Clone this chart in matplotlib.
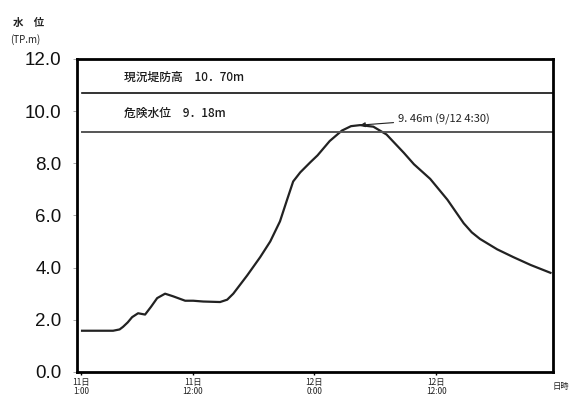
import matplotlib
matplotlib.use("Agg")
import matplotlib.pyplot as plt

plt.rcParams['font.family'] = ['Noto Sans CJK JP', 'DejaVu Sans']

# hours since 11日 0:00
hours = [1.1, 4.16, 4.8, 5.14, 5.6, 6.03, 6.62, 7.31, 7.9, 8.5, 9.28, 10.07, 11.26,
         12.05, 13.03, 14.7, 15.4, 16.0, 17.37, 18.65, 19.64, 20.6, 21.3, 21.9,
         22.6, 23.6, 24.3, 25.5, 26.7, 27.6, 28.5, 29.8, 31.1, 32.8, 33.8, 35.4,
         37.1, 38.7, 39.5, 40.3, 42.0, 43.6, 45.3, 47.25]
levels = [1.58, 1.58, 1.63, 1.73, 1.9, 2.1, 2.25, 2.2, 2.5, 2.83, 3.0, 2.9, 2.73,
          2.73, 2.7, 2.68, 2.77, 3.0, 3.7, 4.4, 5.0, 5.77, 6.6, 7.3,
          7.65, 8.04, 8.3, 8.85, 9.25, 9.42, 9.46, 9.4, 9.1, 8.4, 7.96, 7.4,
          6.6, 5.7, 5.35, 5.1, 4.7, 4.4, 4.1, 3.8]

levee_height = 10.70
danger_level = 9.18
peak_level = 9.46
peak_hour = 28.5

xtick_pos = [1, 12, 24, 36]
xtick_labels = ["11日\n1:00", "11日\n12:00", "12日\n0:00", "12日\n12:00"]
ytick_pos = [0, 2, 4, 6, 8, 10, 12]
ytick_labels = ["0.0", "2.0", "4.0", "6.0", "8.0", "10.0", "12.0"]

fig = plt.figure(figsize=(5.77, 4.03), dpi=100)
ax = fig.add_axes([0.1334, 0.077, 0.825, 0.777])

ax.plot(hours, levels, color="#222222", lw=1.6, solid_joinstyle="round")
ax.plot([1.1, 47.5], [levee_height, levee_height], color="#111111", lw=1.2)
ax.plot([1.1, 47.5], [danger_level, danger_level], color="#555555", lw=1.4)

ax.text(5.2, 11.3, "現況堤防高　10．70m", fontsize=8.5, color="#1a1a1a", va="center",
        fontweight="medium")
ax.text(5.2, 9.9, "危険水位　9．18m", fontsize=8.5, color="#1a1a1a", va="center",
        fontweight="medium")
ax.annotate("9. 46m (9/12 4:30)", xy=(peak_hour, peak_level), xytext=(32.2, 9.7),
            fontsize=8, color="#222222", va="center",
            arrowprops=dict(arrowstyle="-|>", color="#222222", lw=0.8,
                            mutation_scale=7, shrinkA=1, shrinkB=0))

ax.set_xlim(0.6, 47.5)
ax.set_ylim(0, 12)
ax.set_xticks(xtick_pos)
ax.set_xticklabels(xtick_labels, fontsize=6, linespacing=1.0, color="#222222")
ax.set_yticks(ytick_pos)
ax.set_yticklabels(ytick_labels, fontsize=13.5, family=["Liberation Sans"], color="#111111")
ax.tick_params(axis="y", length=3, width=0.6, color="#999999", pad=8)
ax.tick_params(axis="x", length=2, width=1.0, pad=2)
for s in ax.spines.values():
    s.set_linewidth(2)
    s.set_color("#000000")

fig.text(0.022, 0.935, "水　位", fontsize=7.5, fontweight="bold", color="#222222")
fig.text(0.018, 0.893, "(TP.m)", fontsize=7, color="#222222")
fig.text(0.958, 0.035, "日時", fontsize=6, color="#222222")

fig.savefig("out.png", dpi=100)
